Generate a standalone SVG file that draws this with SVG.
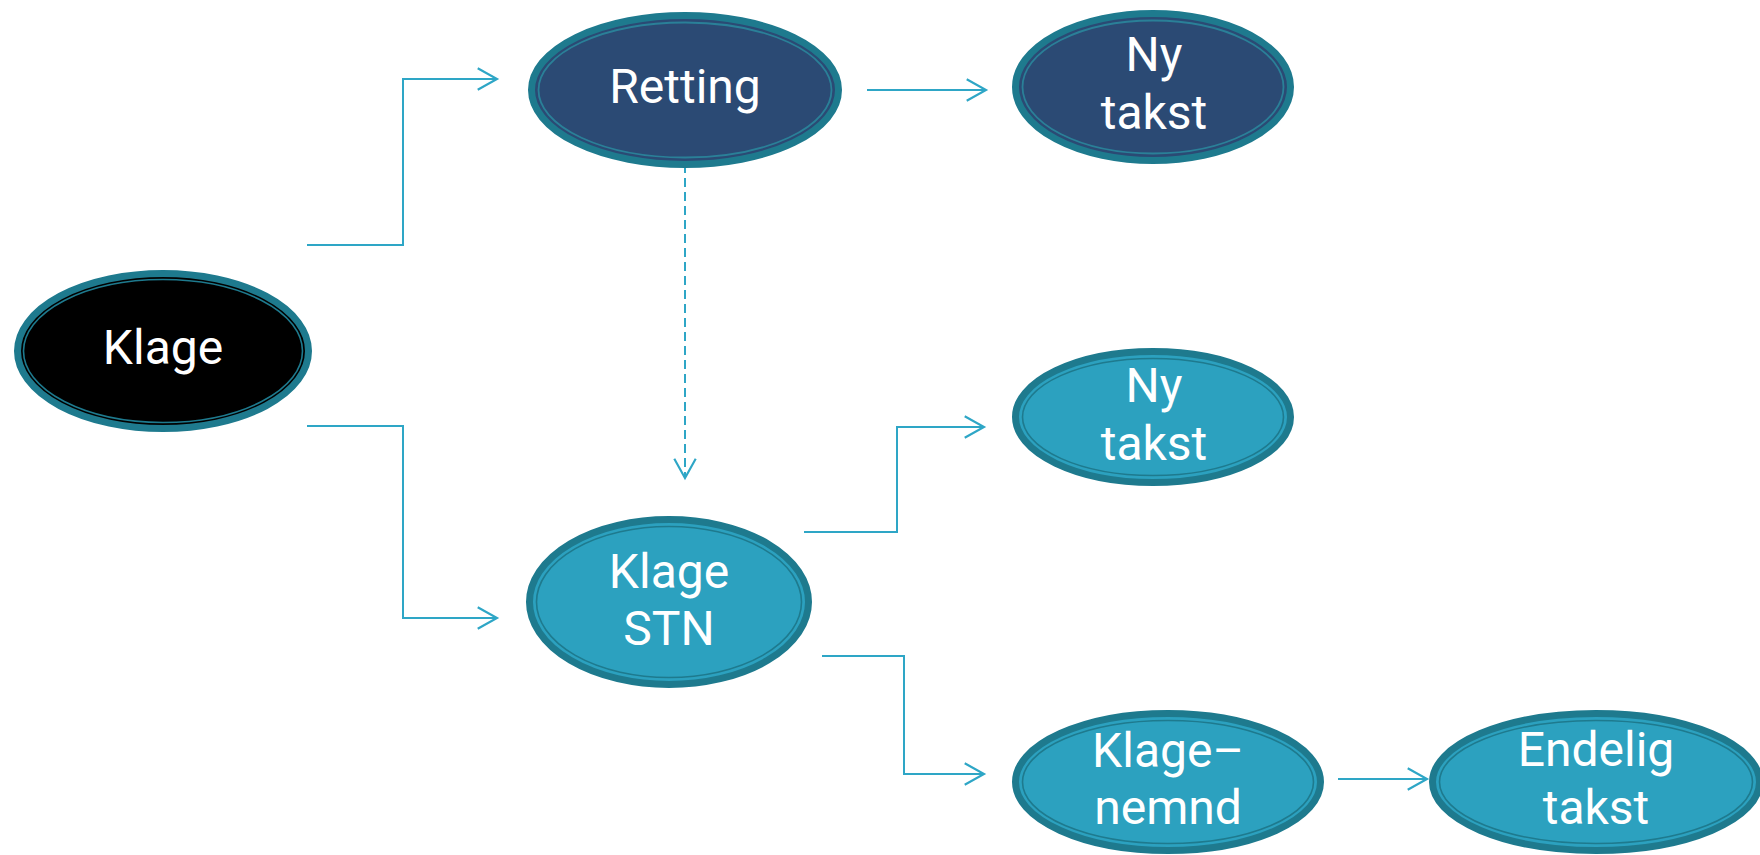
<svg xmlns="http://www.w3.org/2000/svg" width="1760" height="855" viewBox="0 0 1760 855">
<defs>
<marker id="arr" markerUnits="userSpaceOnUse" markerWidth="30" markerHeight="30" viewBox="-22 -14 26 28" refX="0" refY="0" orient="auto">
<path d="M-18,-10 L0,0 L-18,10" fill="none" stroke="#2EA6C6" stroke-width="2"/>
</marker>
<style>
.ring{stroke:#1E7A8E;stroke-width:7}
.inner{fill:none;stroke:#1E7A8E;stroke-width:1.6}
.navy{fill:#2B4A74}
.teal{fill:#2CA1BF}
.black{fill:#000000}
.innernavy{fill:none;stroke:#2A8098;stroke-width:1.8}
.lbl{font-family:Roboto,"Liberation Sans",sans-serif;font-size:48px;fill:#FFFFFF;text-anchor:middle}
.conn{fill:none;stroke:#2EA6C6;stroke-width:2}
</style>
</defs>
<rect width="1760" height="855" fill="#FFFFFF"/>
<g id="connectors">
<polyline class="conn" points="307,245 403,245 403,79 497,79" marker-end="url(#arr)"/>
<polyline class="conn" points="307,426 403,426 403,618 497,618" marker-end="url(#arr)"/>
<polyline class="conn" points="867,90 986,90" marker-end="url(#arr)"/>
<polyline class="conn" points="685,164 685,478" stroke-dasharray="9,5" marker-end="url(#arr)"/>
<polyline class="conn" points="804,532 897,532 897,427 984,427" marker-end="url(#arr)"/>
<polyline class="conn" points="822,656 904,656 904,774 984,774" marker-end="url(#arr)"/>
<polyline class="conn" points="1338,779 1427,779" marker-end="url(#arr)"/>
</g>
<g id="node-klage">
<ellipse class="ring black" cx="163" cy="351" rx="145.5" ry="77.5"/>
<ellipse class="inner" cx="163" cy="351" rx="139.5" ry="71.5"/>
<text class="lbl" x="163" y="364">Klage</text>
</g>
<g id="node-retting">
<ellipse class="ring navy" cx="685" cy="90" rx="153.5" ry="74.5"/>
<ellipse class="innernavy" cx="685" cy="90" rx="146.5" ry="67.5"/>
<text class="lbl" x="685" y="103">Retting</text>
</g>
<g id="node-nytakst1">
<ellipse class="ring navy" cx="1153" cy="87" rx="137.5" ry="73.5"/>
<ellipse class="innernavy" cx="1153" cy="87" rx="130.5" ry="66.5"/>
<text class="lbl" x="1154" y="71">Ny</text>
<text class="lbl" x="1154" y="129">takst</text>
</g>
<g id="node-nytakst2">
<ellipse class="ring teal" cx="1153" cy="417" rx="137.5" ry="65.5"/>
<ellipse class="inner" cx="1153" cy="417" rx="130.5" ry="58.5"/>
<text class="lbl" x="1154" y="402">Ny</text>
<text class="lbl" x="1154" y="460">takst</text>
</g>
<g id="node-klagestn">
<ellipse class="ring teal" cx="669" cy="602" rx="139.5" ry="82.5"/>
<ellipse class="inner" cx="669" cy="602" rx="132.5" ry="75.5"/>
<text class="lbl" x="669" y="588">Klage</text>
<text class="lbl" x="669" y="645">STN</text>
</g>
<g id="node-klagenemnd">
<ellipse class="ring teal" cx="1168" cy="782" rx="152.5" ry="68.5"/>
<ellipse class="inner" cx="1168" cy="782" rx="145.5" ry="61.5"/>
<text class="lbl" x="1168" y="767">Klage–</text>
<text class="lbl" x="1168" y="824">nemnd</text>
</g>
<g id="node-endelig">
<ellipse class="ring teal" cx="1596" cy="782" rx="163.5" ry="68.5"/>
<ellipse class="inner" cx="1596" cy="782" rx="156.5" ry="61.5"/>
<text class="lbl" x="1596" y="766">Endelig</text>
<text class="lbl" x="1596" y="824">takst</text>
</g>
</svg>
